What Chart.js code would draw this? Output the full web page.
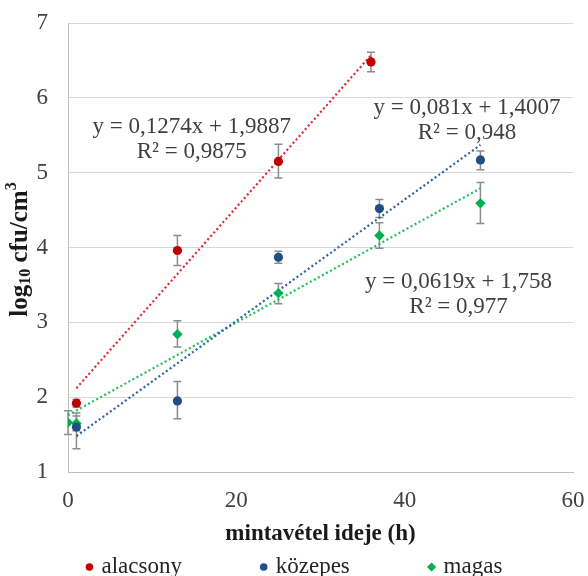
<!DOCTYPE html>
<html>
<head>
<meta charset="utf-8">
<script src="https://cdn.jsdelivr.net/npm/chart.js@4/dist/chart.umd.min.js"></script>
<style>
  html, body { margin: 0; padding: 0; background: #fff; }
</style>
</head>
<body>
<canvas id="chart" width="588" height="576"></canvas>
<script>
// mért értékek (log10 cfu/cm3), leolvasva
const labels = ['alacsony', 'közepes', 'magas'];

const xAlacsony = [1, 13, 25, 36];
const yAlacsony = [1.92, 3.96, 5.15, 6.48];
const loAlacsony = [1.87, 3.76, 4.93, 6.35];
const hiAlacsony = [1.97, 4.16, 5.38, 6.61];

const xKozepes = [1, 13, 25, 37, 49];
const yKozepes = [1.60, 1.95, 3.87, 4.52, 5.17];
const loKozepes = [1.31, 1.71, 3.79, 4.40, 5.04];
const hiKozepes = [1.75, 2.21, 3.95, 4.64, 5.29];

const xMagas = [0, 1, 13, 25, 37, 49];
const yMagas = [1.66, 1.65, 2.84, 3.39, 4.16, 4.59];
const loMagas = [1.50, 1.55, 2.67, 3.25, 3.99, 4.32];
const hiMagas = [1.82, 1.79, 3.02, 3.52, 4.33, 4.87];

// trendvonalak végpontjai
const trendAlacsony = [[1, 2.12], [36, 6.57]];
const trendKozepes = [[1, 1.48], [49, 5.37]];
const trendMagas = [[0, 1.76], [49, 4.79]];

const equations = [
  ['y = 0,1274x + 1,9887', 'R² = 0,9875'],
  ['y = 0,081x + 1,4007', 'R² = 0,948'],
  ['y = 0,0619x + 1,758', 'R² = 0,977']
];

const xTicks = [0, 20, 40, 60];
const yTicks = [1, 2, 3, 4, 5, 6, 7];

const FONT = '"Liberation Serif", "Times New Roman", serif';
const red = '#c00000', blue = '#1f4e87', green = '#00b050';

const pts = (xs, ys) => xs.map((x, i) => ({ x: x, y: ys[i] }));
const line = (p) => p.map(d => ({ x: d[0], y: d[1] }));

// hol legyenek a trendvonal-egyenletek (adat-koordinátában)
const eqPos = [
  { x: 14.7, y: 5.61 },
  { x: 47.4, y: 5.86 },
  { x: 46.4, y: 3.54 }
];

const errorBars = {
  id: 'errorBars',
  beforeDatasetsDraw(chart) {
    const ctx = chart.ctx, xs = chart.scales.x, ys = chart.scales.y;
    ctx.save();
    ctx.strokeStyle = '#8c8c8c';
    ctx.lineWidth = 1.5;
    chart.data.datasets.forEach(ds => {
      if (!ds.lo) return;
      ds.data.forEach((p, i) => {
        const px = xs.getPixelForValue(p.x);
        const y1 = ys.getPixelForValue(ds.lo[i]);
        const y2 = ys.getPixelForValue(ds.hi[i]);
        ctx.beginPath();
        ctx.moveTo(px, y1); ctx.lineTo(px, y2);
        ctx.moveTo(px - 4, y1); ctx.lineTo(px + 4, y1);
        ctx.moveTo(px - 4, y2); ctx.lineTo(px + 4, y2);
        ctx.stroke();
      });
    });
    ctx.restore();
  }
};

const extras = {
  id: 'extras',
  afterDraw(chart) {
    const ctx = chart.ctx, xs = chart.scales.x, ys = chart.scales.y;
    const area = chart.chartArea;
    ctx.save();

    // egyenletek
    ctx.font = '23px ' + FONT;
    ctx.fillStyle = '#404040';
    ctx.textAlign = 'center';
    ctx.textBaseline = 'middle';
    equations.forEach((eq, i) => {
      const px = xs.getPixelForValue(eqPos[i].x);
      const py = ys.getPixelForValue(eqPos[i].y);
      ctx.fillText(eq[0], px, py);
      ctx.fillText(eq[1], px, py + 25);
    });

    // y tengely címe, alsó/felső indexszel
    const parts = [
      { t: 'log', s: 25, dy: 0 },
      { t: '10', s: 16, dy: 5 },
      { t: ' cfu/cm', s: 25, dy: 0 },
      { t: '3', s: 16, dy: -9 }
    ];
    let total = 0;
    parts.forEach(p => { ctx.font = 'bold ' + p.s + 'px ' + FONT; p.w = ctx.measureText(p.t).width; total += p.w; });
    ctx.translate(21, (area.top + area.bottom) / 2 + 2);
    ctx.rotate(-Math.PI / 2);
    ctx.fillStyle = '#1a1a1a';
    ctx.textAlign = 'left';
    let cx = -total / 2;
    parts.forEach(p => {
      ctx.font = 'bold ' + p.s + 'px ' + FONT;
      ctx.fillText(p.t, cx, p.dy);
      cx += p.w;
    });
    ctx.restore();

    // jelmagyarázat
    ctx.save();
    ctx.font = '23px ' + FONT;
    ctx.textBaseline = 'middle';
    ctx.textAlign = 'left';
    const items = chart.data.datasets.filter(d => d.inLegend);
    const r = 3.8, gap = 12, itemGap = 78;
    const widths = items.map(d => r + gap + ctx.measureText(d.label).width);
    const full = widths.reduce((a, b) => a + b, 0) + itemGap * (items.length - 1);
    let x = (chart.width - full) / 2;
    const y = 567;
    items.forEach((d, i) => {
      const mx = x + r;
      ctx.fillStyle = d.backgroundColor;
      ctx.beginPath();
      if (d.pointStyle === 'rectRot') {
        const k = r + 0.8;
        ctx.moveTo(mx, y - k); ctx.lineTo(mx + k, y); ctx.lineTo(mx, y + k); ctx.lineTo(mx - k, y);
        ctx.closePath();
      } else {
        ctx.arc(mx, y, r, 0, Math.PI * 2);
      }
      ctx.fill();
      ctx.fillStyle = '#262626';
      ctx.fillText(d.label, mx + gap, y);
      x += widths[i] + itemGap;
    });
    ctx.restore();
  }
};

const trendStyle = (color) => ({
  type: 'line',
  borderColor: color,
  borderWidth: 2.2,
  borderDash: [2, 2.6],
  pointRadius: 0,
  fill: false,
  order: 5
});

new Chart(document.getElementById('chart').getContext('2d'), {
  type: 'scatter',
  data: {
    datasets: [
      { label: labels[0], data: pts(xAlacsony, yAlacsony), lo: loAlacsony, hi: hiAlacsony,
        backgroundColor: red, borderColor: red, pointRadius: 4.6, borderWidth: 0, inLegend: true, order: 1 },
      { label: labels[1], data: pts(xKozepes, yKozepes), lo: loKozepes, hi: hiKozepes,
        backgroundColor: blue, borderColor: blue, pointRadius: 4.6, borderWidth: 0, inLegend: true, order: 1 },
      { label: labels[2], data: pts(xMagas, yMagas), lo: loMagas, hi: hiMagas,
        backgroundColor: green, borderColor: green, pointStyle: 'rectRot', pointRadius: 5.2, borderWidth: 0, inLegend: true, order: 1 },
      Object.assign({ label: 'trend alacsony', data: line(trendAlacsony) }, trendStyle('#e3262b')),
      Object.assign({ label: 'trend közepes', data: line(trendKozepes) }, trendStyle('#2e5fa3')),
      Object.assign({ label: 'trend magas', data: line(trendMagas) }, trendStyle('#1fbf5a'))
    ]
  },
  options: {
    responsive: false,
    animation: false,
    layout: { padding: { top: 23, right: 15, left: 0, bottom: 0 } },
    plugins: {
      legend: { display: false },
      tooltip: { enabled: false }
    },
    scales: {
      x: {
        type: 'linear',
        min: 0, max: 60,
        afterBuildTicks: (s) => { s.ticks = xTicks.map(v => ({ value: v })); },
        afterFit: (s) => { s.height = 104; s.paddingLeft = 0; s.paddingRight = 0; },
        grid: { display: true, drawOnChartArea: false, drawTicks: false },
        border: { display: true, color: '#bfbfbf', width: 1 },
        ticks: { padding: 15, color: '#404040', font: { family: FONT, size: 23 } },
        title: {
          display: true,
          text: 'mintavétel ideje (h)',
          color: '#1a1a1a',
          font: { family: FONT, size: 23, weight: 'bold' },
          padding: { top: 0, bottom: 28 }
        }
      },
      y: {
        type: 'linear',
        min: 1, max: 7,
        afterBuildTicks: (s) => { s.ticks = yTicks.map(v => ({ value: v })); },
        afterFit: (s) => { s.width = 68; s.paddingTop = 0; s.paddingBottom = 0; },
        grid: { color: '#d9d9d9', lineWidth: 1, drawTicks: false },
        border: { display: true, color: '#bfbfbf', width: 1 },
        ticks: { padding: 20, color: '#404040', font: { family: FONT, size: 23 } }
      }
    }
  },
  plugins: [errorBars, extras]
});
</script>
</body>
</html>
